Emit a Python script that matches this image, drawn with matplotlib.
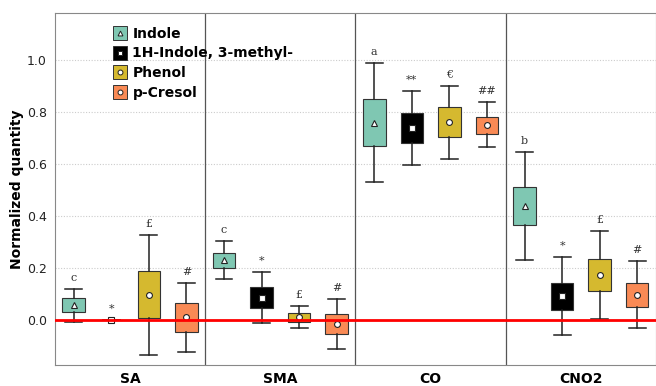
import matplotlib.pyplot as plt
from matplotlib.lines import Line2D
from matplotlib.legend_handler import HandlerTuple

groups = ['SA', 'SMA', 'CO', 'CNO2']
compounds = ['Indole', '1H-Indole, 3-methyl-', 'Phenol', 'p-Cresol']
colors = ['#7fc7b2', '#000000', '#d5b92f', '#f98a55']
mean_markers = ['^', 's', 'o', 'o']

# per group, per compound: whisker low, q1, q3, whisker high, mean
whislo = [[-0.008, 0.0, -0.135, -0.122],
          [0.156, -0.010, -0.032, -0.113],
          [0.530, 0.596, 0.620, 0.664],
          [0.231, -0.058, 0.003, -0.032]]
q1 = [[0.030, 0.0, 0.007, -0.045],
      [0.199, 0.047, -0.006, -0.055],
      [0.667, 0.679, 0.705, 0.715],
      [0.364, 0.038, 0.112, 0.051]]
q3 = [[0.085, 0.0, 0.190, 0.065],
      [0.259, 0.126, 0.026, 0.023],
      [0.850, 0.795, 0.817, 0.782],
      [0.510, 0.143, 0.235, 0.141]]
whishi = [[0.120, 0.0, 0.327, 0.143],
          [0.305, 0.186, 0.054, 0.081],
          [0.987, 0.882, 0.900, 0.836],
          [0.646, 0.241, 0.343, 0.227]]
means = [[0.058, 0.0, 0.096, 0.013],
         [0.231, 0.086, 0.010, -0.015],
         [0.759, 0.737, 0.760, 0.749],
         [0.438, 0.092, 0.173, 0.096]]
letters = [['c', '*', '£', '#'],
           ['c', '*', '£', '#'],
           ['a', '**', '€', '##'],
           ['b', '*', '£', '#']]

fig = plt.figure(figsize=(6.56, 3.86), dpi=100)
ax = fig.add_axes([0.0838, 0.0544, 0.9162, 0.912])

for g in range(len(groups)):
    for i in range(len(compounds)):
        pos = g * 4 + i
        st = [{'med': means[g][i], 'q1': q1[g][i], 'q3': q3[g][i],
               'whislo': whislo[g][i], 'whishi': whishi[g][i],
               'mean': means[g][i], 'fliers': []}]
        ax.bxp(st, positions=[pos], widths=0.6, capwidths=0.45,
               patch_artist=True, showmeans=True,
               boxprops=dict(facecolor=colors[i], edgecolor='#333333', linewidth=0.8),
               medianprops=dict(linewidth=0),
               whiskerprops=dict(color='#222222', linewidth=1.1),
               capprops=dict(color='#222222', linewidth=1.1),
               meanprops=dict(marker=mean_markers[i], markerfacecolor='white',
                              markeredgecolor='#222222', markersize=4.2,
                              markeredgewidth=0.8),
               zorder=3)
        ax.annotate(letters[g][i], (pos, whishi[g][i]), xytext=(0, 8),
                    textcoords='offset points', ha='center', va='center',
                    fontsize=8, family='DejaVu Serif', color='#333333')

ax.axhline(0, color='#ff0000', linewidth=2, zorder=4)
for xs in [3.5, 7.5, 11.5]:
    ax.axvline(xs, color='#555555', linewidth=0.9)

ax.set_xlim(-0.5, 15.5)
ax.set_ylim(-0.173, 1.18)
ax.set_yticks([0.0, 0.2, 0.4, 0.6, 0.8, 1.0])
ax.set_yticklabels(['0.0', '0.2', '0.4', '0.6', '0.8', '1.0'])
ax.yaxis.grid(True, linestyle=(0, (1, 1.5)), color='#cccccc', linewidth=0.8)
ax.set_axisbelow(True)
ax.tick_params(axis='y', length=0, labelsize=9, pad=6, colors='#222222')
ax.set_xticks([1.5, 5.5, 9.5, 13.5])
ax.set_xticklabels(groups, fontweight='bold', fontsize=10)
ax.tick_params(axis='x', length=0, pad=5)
ax.set_ylabel('Normalized quantity', fontweight='bold', fontsize=10, labelpad=2)
for s in ax.spines.values():
    s.set_color('#888888')

handles = []
for i in range(len(compounds)):
    box = Line2D([], [], marker='s', linestyle='none', markersize=10,
                 markerfacecolor=colors[i], markeredgecolor='#333333', markeredgewidth=0.7)
    mk = Line2D([], [], marker=mean_markers[i], linestyle='none', markersize=3.5,
                markerfacecolor='white', markeredgecolor='#222222', markeredgewidth=0.7)
    handles.append((box, mk))
leg = ax.legend(handles, compounds, handler_map={tuple: HandlerTuple(ndivide=1, pad=0)},
                loc='upper left', bbox_to_anchor=(0.085, 0.985), frameon=False,
                handlelength=0.8, handletextpad=0.5, labelspacing=0.42,
                borderaxespad=0.2, prop=dict(weight='bold', size=10))

fig.savefig('out.png', dpi=100)
